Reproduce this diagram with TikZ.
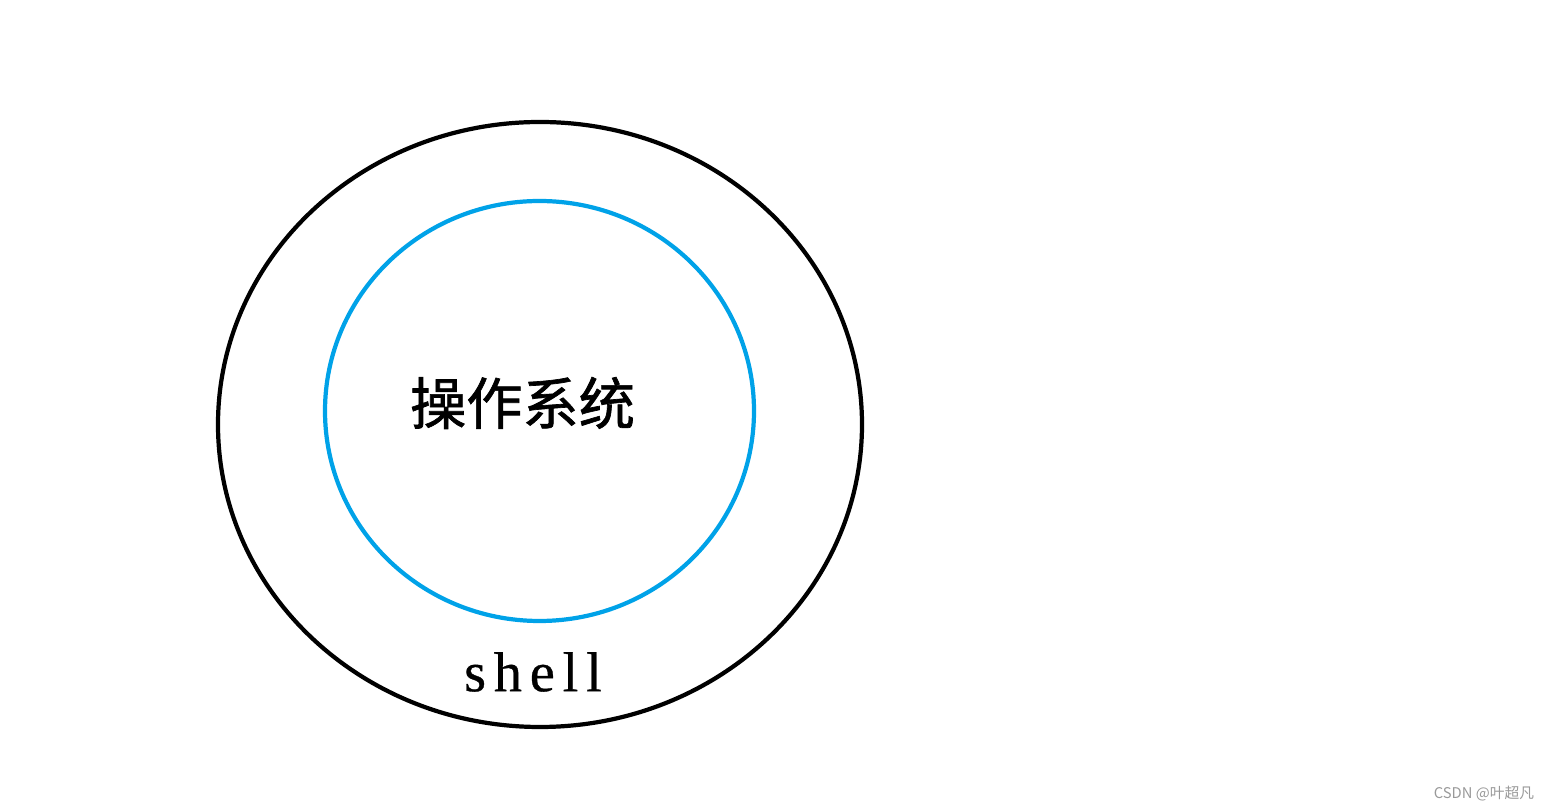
\documentclass[tikz,border=0pt]{standalone}
\usepackage{fontspec}
\setmainfont{Liberation Serif}
\newfontfamily\cjk{Noto Sans CJK SC}
\usetikzlibrary{shapes.geometric}
\definecolor{osblue}{RGB}{0,162,232}
\tikzset{%
    ring/.style={draw, ellipse, line width=1.2pt, inner sep=0pt},
    label/.style={font=\fontsize{16}{18}\selectfont},
}

\begin{document}
\begin{tikzpicture}
	\useasboundingbox (0,0) rectangle (15.49,8.11);
	\node[ring, minimum width=6.44cm, minimum height=6.05cm] (shell) at (5.40,3.865) {};
	\node[ring, draw=osblue, minimum width=4.29cm, minimum height=4.20cm] (kernel) at (5.395,4.00) {};

	\node[label] (os) at (5.225,4.08) {\cjk\addfontfeature{FakeBold=1.2}操作系统};
	\node[label] (sh) at (5.33,1.39) {\addfontfeature{LetterSpace=14,FakeBold=0.6}shell};

	\node[text=black!40, font=\fontsize{4.2}{5}\selectfont\cjk] (mark) at (14.84,0.17) {CSDN @叶超凡};
\end{tikzpicture}
\end{document}
